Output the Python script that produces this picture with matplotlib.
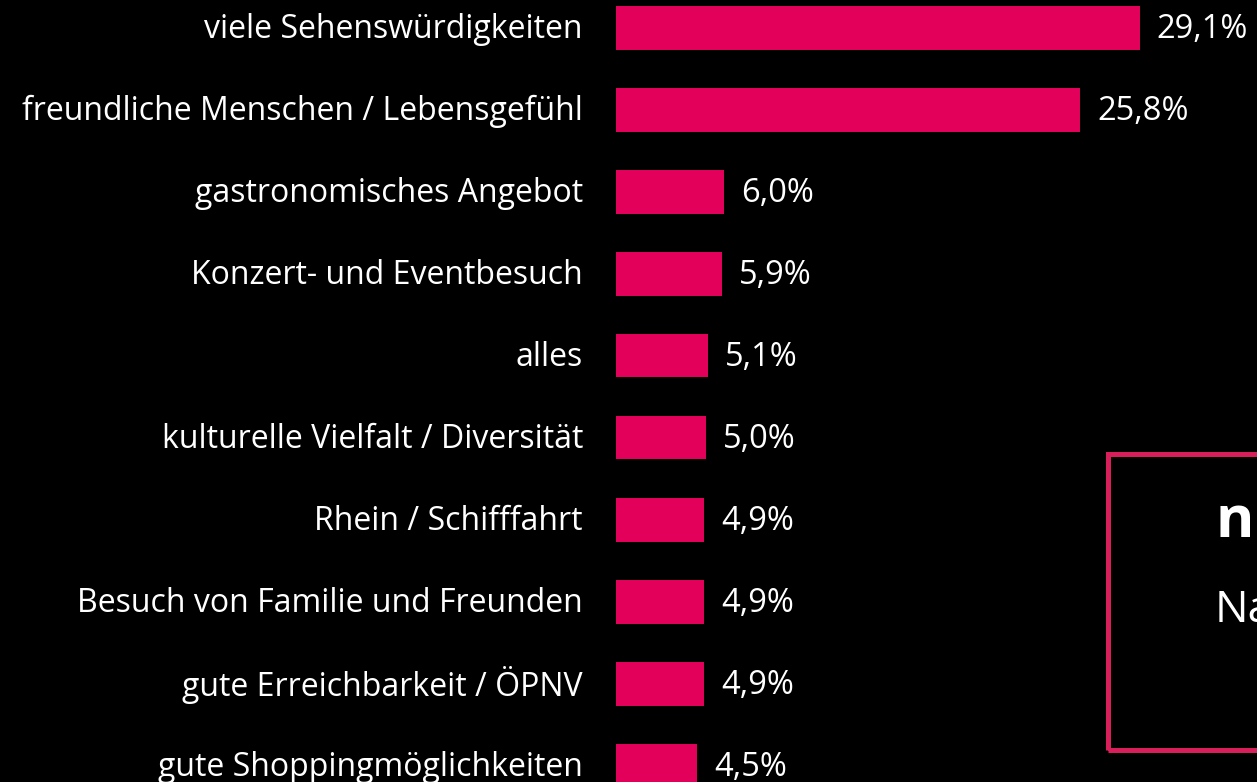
import matplotlib
matplotlib.use("Agg")
import matplotlib.pyplot as plt
from matplotlib.patches import Rectangle
from matplotlib.transforms import offset_copy

categories = [
    "viele Sehenswürdigkeiten",
    "freundliche Menschen / Lebensgefühl",
    "gastronomisches Angebot",
    "Konzert- und Eventbesuch",
    "alles",
    "kulturelle Vielfalt / Diversität",
    "Rhein / Schifffahrt",
    "Besuch von Familie und Freunden",
    "gute Erreichbarkeit / ÖPNV",
    "gute Shoppingmöglichkeiten",
]
values = [29.1, 25.8, 6.0, 5.9, 5.1, 5.0, 4.9, 4.9, 4.9, 4.5]
value_labels = ["29,1%", "25,8%", "6,0%", "5,9%", "5,1%", "5,0%", "4,9%", "4,9%", "4,9%", "4,5%"]

BAR_COLOR = "#E3005A"
BOX_COLOR = "#D81E5B"
FONT = "Open Sans"

W, H, DPI = 1257, 782, 100
fig = plt.figure(figsize=(W / DPI, H / DPI), dpi=DPI, facecolor="black")

# plot area starts at the bars' left edge and runs to the right border
x0 = 616
px_per_pct = 18.0
ax = fig.add_axes([x0 / W, 0, (W - x0) / W, 1])
ax.set_facecolor("black")
ax.set_xlim(0, (W - x0) / px_per_pct)
row = 82.0
ax.set_ylim((H - 27.5) / row, -27.5 / row)
ax.axis("off")

pos = list(range(len(categories)))
ax.barh(pos, values, height=44 / row, color=BAR_COLOR, edgecolor="none")

lab_tr = offset_copy(ax.transData, fig=fig, x=-33, y=-2, units="dots")
for i, (cat, v, vl) in enumerate(zip(categories, values, value_labels)):
    ax.text(0, i, cat, transform=lab_tr, ha="right", va="center",
            color="white", fontsize=23, family=FONT, clip_on=False)
    ax.annotate(vl, xy=(v, i), xytext=(17, -2), textcoords="offset pixels",
                ha="left", va="center", color="white", fontsize=23.5,
                family=FONT, annotation_clip=False)

# framed note box running off the right edge
box = Rectangle((1108 / W, 1 - 750 / H), 300 / W, (750 - 454) / H,
                transform=fig.transFigure, facecolor="none",
                edgecolor=BOX_COLOR, linewidth=3.6, zorder=5)
fig.add_artist(box)
fig.text(1215 / W, 1 - 538 / H, "nur", color="white", fontsize=42,
         fontweight="bold", family=FONT, ha="left", va="baseline")
fig.text(1215 / W, 1 - 622 / H, "Nach", color="white", fontsize=32,
         family=FONT, ha="left", va="baseline")

fig.savefig("out.png", dpi=DPI, facecolor="black")
